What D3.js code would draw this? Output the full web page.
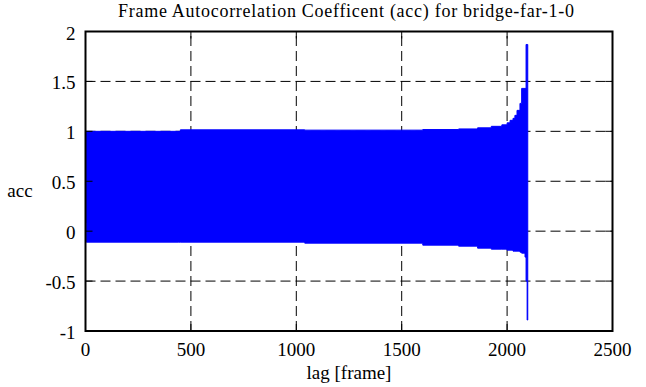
<!DOCTYPE html>
<html>
<head>
<meta charset="utf-8">
<script src="https://cdn.jsdelivr.net/npm/d3@7"></script>
<style>
  body { margin: 0; background: #fff; }
  text { font-family: "Liberation Serif", "DejaVu Serif", serif; }
</style>
</head>
<body>
<div id="mainDiv"></div>
<script>
'use strict';

// envelope of the acc signal (lag in frames)
var lags  = [0, 4, 440, 450, 1040, 1600, 1770, 1860, 1925, 1975, 2000, 2014, 2028, 2037, 2047, 2061, 2069, 2085, 2090, 2095, 2098];
var upper = [1.00, 1.00, 1.00, 1.015, 1.012, 1.018, 1.024, 1.035, 1.05, 1.065, 1.085, 1.11, 1.13, 1.16, 1.21, 1.28, 1.43, 1.43, 1.87, 1.87, 1.87];
var lower = [0.08, -0.11, -0.11, -0.11, -0.12, -0.14, -0.15, -0.17, -0.18, -0.18, -0.19, -0.19, -0.20, -0.20, -0.20, -0.21, -0.22, -0.26, -0.50, -0.89, -0.89];

var xTicks = [0, 500, 1000, 1500, 2000, 2500];
var yTicks = [-1, -0.5, 0, 0.5, 1, 1.5, 2];

var myApp = {};

myApp.margin = { left: 85.5, right: 33.5, top: 31.5, bottom: 56 };

myApp.run = function ()
{
    var W = 646, H = 387;
    var m = myApp.margin;

    var svg = d3.select("#mainDiv").append("svg")
        .attr("width", W)
        .attr("height", H);

    var x = d3.scaleLinear().domain([0, 2500]).range([m.left, W - m.right]);
    var y = d3.scaleLinear().domain([-1, 2]).range([H - m.bottom, m.top]);

    var x0 = x.range()[0], x1 = x.range()[1];
    var y0 = y.range()[0], y1 = y.range()[1];

    // dashed grid
    svg.append("g").selectAll("line")
        .data(xTicks.slice(1, -1))
        .enter().append("line")
            .attr("x1", function(d){ return x(d); })
            .attr("x2", function(d){ return x(d); })
            .attr("y1", y0).attr("y2", y1)
            .attr("stroke", "#000").attr("stroke-width", 1)
            .attr("stroke-dasharray", "10,5");

    svg.append("g").selectAll("line")
        .data(yTicks.slice(1, -1))
        .enter().append("line")
            .attr("y1", function(d){ return y(d); })
            .attr("y2", function(d){ return y(d); })
            .attr("x1", x0).attr("x2", x1)
            .attr("stroke", "#000").attr("stroke-width", 1)
            .attr("stroke-dasharray", "10,5");

    // data band
    var pts = lags.map(function(d, i){ return { lag: d, hi: upper[i], lo: lower[i] }; });
    var area = d3.area()
        .curve(d3.curveStepAfter)
        .x(function(d){ return x(d.lag); })
        .y0(function(d){ return y(d.lo); })
        .y1(function(d){ return y(d.hi); });

    svg.append("path")
        .datum(pts)
        .attr("d", area)
        .attr("fill", "#0000ff")
        .attr("stroke", "#0000ff")
        .attr("stroke-width", 1);

    // ticks, mirrored on all four sides
    var tl = 7;
    var ticks = svg.append("g").attr("stroke", "#000").attr("stroke-width", 1);
    xTicks.forEach(function(d){
        ticks.append("line").attr("x1", x(d)).attr("x2", x(d)).attr("y1", y0).attr("y2", y0 - tl);
        ticks.append("line").attr("x1", x(d)).attr("x2", x(d)).attr("y1", y1).attr("y2", y1 + tl);
    });
    yTicks.forEach(function(d){
        ticks.append("line").attr("y1", y(d)).attr("y2", y(d)).attr("x1", x0).attr("x2", x0 + tl);
        ticks.append("line").attr("y1", y(d)).attr("y2", y(d)).attr("x1", x1).attr("x2", x1 - tl);
    });

    // border
    svg.append("rect")
        .attr("x", x0).attr("y", y1)
        .attr("width", x1 - x0).attr("height", y0 - y1)
        .attr("fill", "none").attr("stroke", "#000").attr("stroke-width", 2);

    // tick labels
    svg.append("g").selectAll("text")
        .data(xTicks)
        .enter().append("text")
            .text(function(d){ return d; })
            .attr("x", function(d){ return x(d); })
            .attr("y", y0 + 25)
            .attr("text-anchor", "middle")
            .attr("font-size", "19px");

    svg.append("g").selectAll("text")
        .data(yTicks)
        .enter().append("text")
            .text(function(d){ return d; })
            .attr("x", x0 - 10)
            .attr("y", function(d){ return y(d) + 8; })
            .attr("text-anchor", "end")
            .attr("font-size", "19px");

    // titles
    svg.append("text")
        .text("Frame Autocorrelation Coefficent (acc) for bridge-far-1-0")
        .attr("x", 346).attr("y", 17)
        .attr("text-anchor", "middle")
        .attr("font-size", "18px")
        .attr("textLength", 456)
        .attr("lengthAdjust", "spacing");

    svg.append("text")
        .text("lag [frame]")
        .attr("x", 349).attr("y", 379)
        .attr("text-anchor", "middle")
        .attr("font-size", "19px");

    svg.append("text")
        .text("acc")
        .attr("x", 20).attr("y", 197)
        .attr("text-anchor", "middle")
        .attr("font-size", "19px");
}

window.onload = myApp.run;
</script>
</body>
</html>
